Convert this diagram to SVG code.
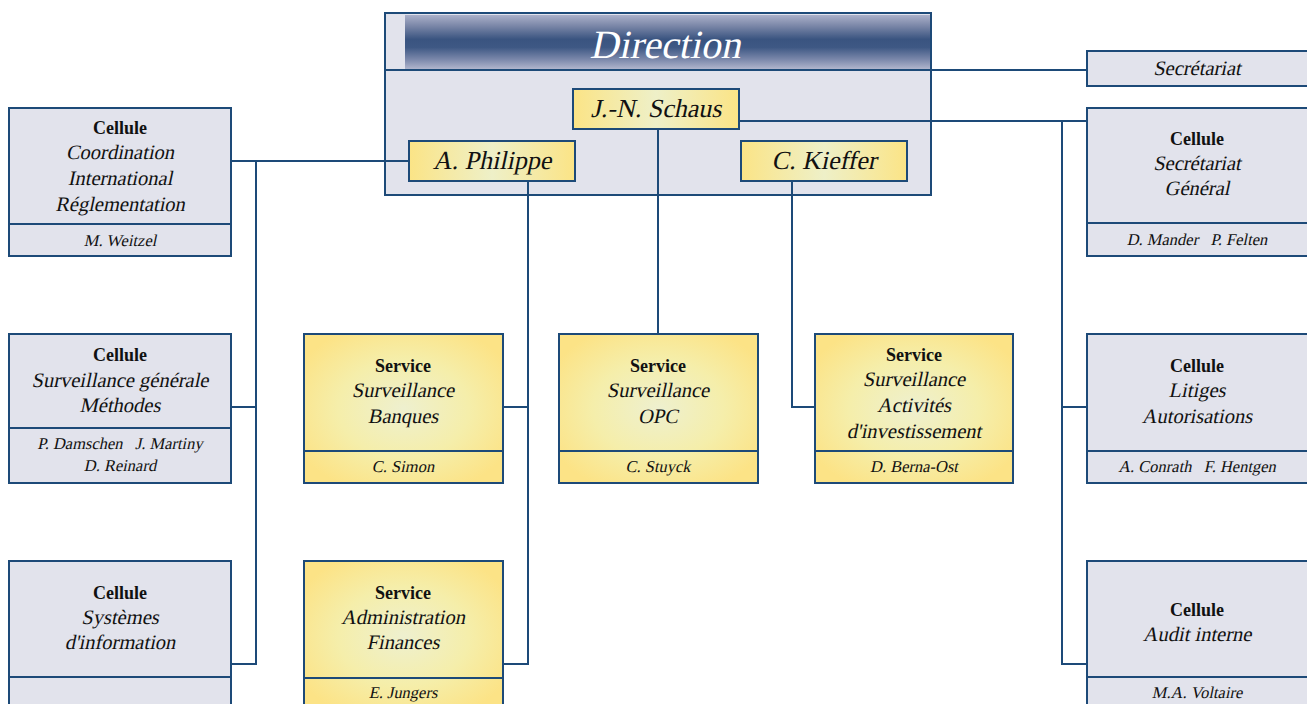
<svg xmlns="http://www.w3.org/2000/svg" width="1307" height="704" viewBox="0 0 1307 704">
<defs>
<linearGradient id="hdr" x1="0" y1="0" x2="0" y2="1">
<stop offset="0" stop-color="#aab0c9"/>
<stop offset="0.2" stop-color="#7b87a8"/>
<stop offset="0.45" stop-color="#3a5480"/>
<stop offset="0.6" stop-color="#3e5884"/>
<stop offset="0.82" stop-color="#7a87aa"/>
<stop offset="1" stop-color="#b0b5cc"/>
</linearGradient>
<radialGradient id="yel" cx="0.5" cy="0.5" r="0.6">
<stop offset="0" stop-color="#eef0cf"/>
<stop offset="0.55" stop-color="#f5eeaa"/>
<stop offset="1" stop-color="#fce386"/>
</radialGradient>
<linearGradient id="yelh" x1="0" y1="0" x2="1" y2="0">
<stop offset="0" stop-color="#fbe486"/>
<stop offset="0.5" stop-color="#eef0c8"/>
<stop offset="1" stop-color="#fbe486"/>
</linearGradient>
</defs>
<style>
.g{fill:#e2e3ec;stroke:#1d4a78;stroke-width:2}
.y{fill:url(#yel);stroke:#1d4a78;stroke-width:2}
.yh{fill:url(#yelh);stroke:#1d4a78;stroke-width:2}
.d{stroke:#1d4a78;stroke-width:2;fill:none}
.c{stroke:#1d4a78;stroke-width:2;fill:none}
text{font-family:"Liberation Serif","DejaVu Serif",serif;text-anchor:middle;fill:#111}
.b{font-size:18px;font-weight:bold}
.i{font-size:20.5px}
.n{font-size:16.5px}
.p{font-size:26px}
.h{font-size:40px;fill:#fff}
</style>

<g id="direction">
<rect class="g" x="385" y="13" width="546" height="182"/>
<rect x="405" y="15" width="525" height="54" fill="url(#hdr)"/>
<path class="d" d="M385 70 H931"/>
<text class="h" transform="translate(665 58) skewX(-12)">Direction</text>
</g>

<g id="connectors">
<path class="c" d="M931 70 H1087"/>
<path class="c" d="M739 121 H1087 M1062 121 V664 H1087 M1062 407 H1087"/>
<path class="c" d="M231 161 H409 M256 161 V664 H231 M256 407 H231"/>
<path class="c" d="M528 181 V664 H503 M528 407 H503"/>
<path class="c" d="M658 129 V334"/>
<path class="c" d="M792 181 V407 H815"/>
</g>

<g id="schaus">
<rect class="yh" x="573" y="89" width="166" height="40"/>
<text class="p" transform="translate(656 117) skewX(-12)">J.-N. Schaus</text>
</g>
<g id="philippe">
<rect class="yh" x="409" y="141" width="166" height="40"/>
<text class="p" transform="translate(492 169) skewX(-12)">A. Philippe</text>
</g>
<g id="kieffer">
<rect class="yh" x="741" y="141" width="166" height="40"/>
<text class="p" transform="translate(824 169) skewX(-12)">C. Kieffer</text>
</g>

<g id="secretariat">
<rect class="g" x="1087" y="51" width="222" height="35"/>
<text class="i" transform="translate(1197 75) skewX(-12)">Secrétariat</text>
</g>

<g id="cellule-coordination">
<rect class="g" x="9" y="108" width="222" height="148"/>
<path class="d" d="M9 224 H231"/>
<text class="b" x="120" y="134">Cellule</text>
<text class="i" transform="translate(120 159) skewX(-12)">Coordination</text>
<text class="i" transform="translate(120 185) skewX(-12)">International</text>
<text class="i" transform="translate(120 211) skewX(-12)">Réglementation</text>
<text class="n" transform="translate(120 246) skewX(-12)">M. Weitzel</text>
</g>

<g id="cellule-surveillance">
<rect class="g" x="9" y="334" width="222" height="149"/>
<path class="d" d="M9 428 H231"/>
<text class="b" x="120" y="361">Cellule</text>
<text class="i" transform="translate(120 387) skewX(-12)">Surveillance générale</text>
<text class="i" transform="translate(120 412) skewX(-12)">Méthodes</text>
<text class="n" transform="translate(120 449) skewX(-12)">P. Damschen&#160;&#160;&#160;J. Martiny</text>
<text class="n" transform="translate(120 471) skewX(-12)">D. Reinard</text>
</g>

<g id="cellule-systemes">
<rect class="g" x="9" y="561" width="222" height="150"/>
<path class="d" d="M9 677 H231"/>
<text class="b" x="120" y="599">Cellule</text>
<text class="i" transform="translate(120 624) skewX(-12)">Systèmes</text>
<text class="i" transform="translate(120 649) skewX(-12)">d'information</text>
</g>

<g id="service-banques">
<rect class="y" x="304" y="334" width="199" height="149"/>
<path class="d" d="M304 451 H503"/>
<text class="b" x="403" y="372">Service</text>
<text class="i" transform="translate(403 397) skewX(-12)">Surveillance</text>
<text class="i" transform="translate(403 423) skewX(-12)">Banques</text>
<text class="n" transform="translate(403 472) skewX(-12)">C. Simon</text>
</g>

<g id="service-opc">
<rect class="y" x="559" y="334" width="199" height="149"/>
<path class="d" d="M559 451 H758"/>
<text class="b" x="658" y="372">Service</text>
<text class="i" transform="translate(658 397) skewX(-12)">Surveillance</text>
<text class="i" transform="translate(658 423) skewX(-12)">OPC</text>
<text class="n" transform="translate(658 472) skewX(-12)">C. Stuyck</text>
</g>

<g id="service-activites">
<rect class="y" x="815" y="334" width="198" height="149"/>
<path class="d" d="M815 451 H1013"/>
<text class="b" x="914" y="361">Service</text>
<text class="i" transform="translate(914 386) skewX(-12)">Surveillance</text>
<text class="i" transform="translate(914 412) skewX(-12)">Activités</text>
<text class="i" transform="translate(914 438) skewX(-12)">d'investissement</text>
<text class="n" transform="translate(914 472) skewX(-12)">D. Berna-Ost</text>
</g>

<g id="service-administration">
<rect class="y" x="304" y="561" width="199" height="150"/>
<path class="d" d="M304 678 H503"/>
<text class="b" x="403" y="599">Service</text>
<text class="i" transform="translate(403 624) skewX(-12)">Administration</text>
<text class="i" transform="translate(403 649) skewX(-12)">Finances</text>
<text class="n" transform="translate(403 698) skewX(-12)">E. Jungers</text>
</g>

<g id="cellule-secretariat-general">
<rect class="g" x="1087" y="108" width="222" height="148"/>
<path class="d" d="M1087 223 H1309"/>
<text class="b" x="1197" y="145">Cellule</text>
<text class="i" transform="translate(1197 170) skewX(-12)">Secrétariat</text>
<text class="i" transform="translate(1197 195) skewX(-12)">Général</text>
<text class="n" transform="translate(1197 245) skewX(-12)">D. Mander&#160;&#160;&#160;P. Felten</text>
</g>

<g id="cellule-litiges">
<rect class="g" x="1087" y="334" width="222" height="149"/>
<path class="d" d="M1087 451 H1309"/>
<text class="b" x="1197" y="372">Cellule</text>
<text class="i" transform="translate(1197 397) skewX(-12)">Litiges</text>
<text class="i" transform="translate(1197 423) skewX(-12)">Autorisations</text>
<text class="n" transform="translate(1197 472) skewX(-12)">A. Conrath&#160;&#160;&#160;F. Hentgen</text>
</g>

<g id="cellule-audit">
<rect class="g" x="1087" y="561" width="222" height="150"/>
<path class="d" d="M1087 677 H1309"/>
<text class="b" x="1197" y="616">Cellule</text>
<text class="i" transform="translate(1197 641) skewX(-12)">Audit interne</text>
<text class="n" transform="translate(1197 698) skewX(-12)">M.A. Voltaire</text>
</g>
</svg>
